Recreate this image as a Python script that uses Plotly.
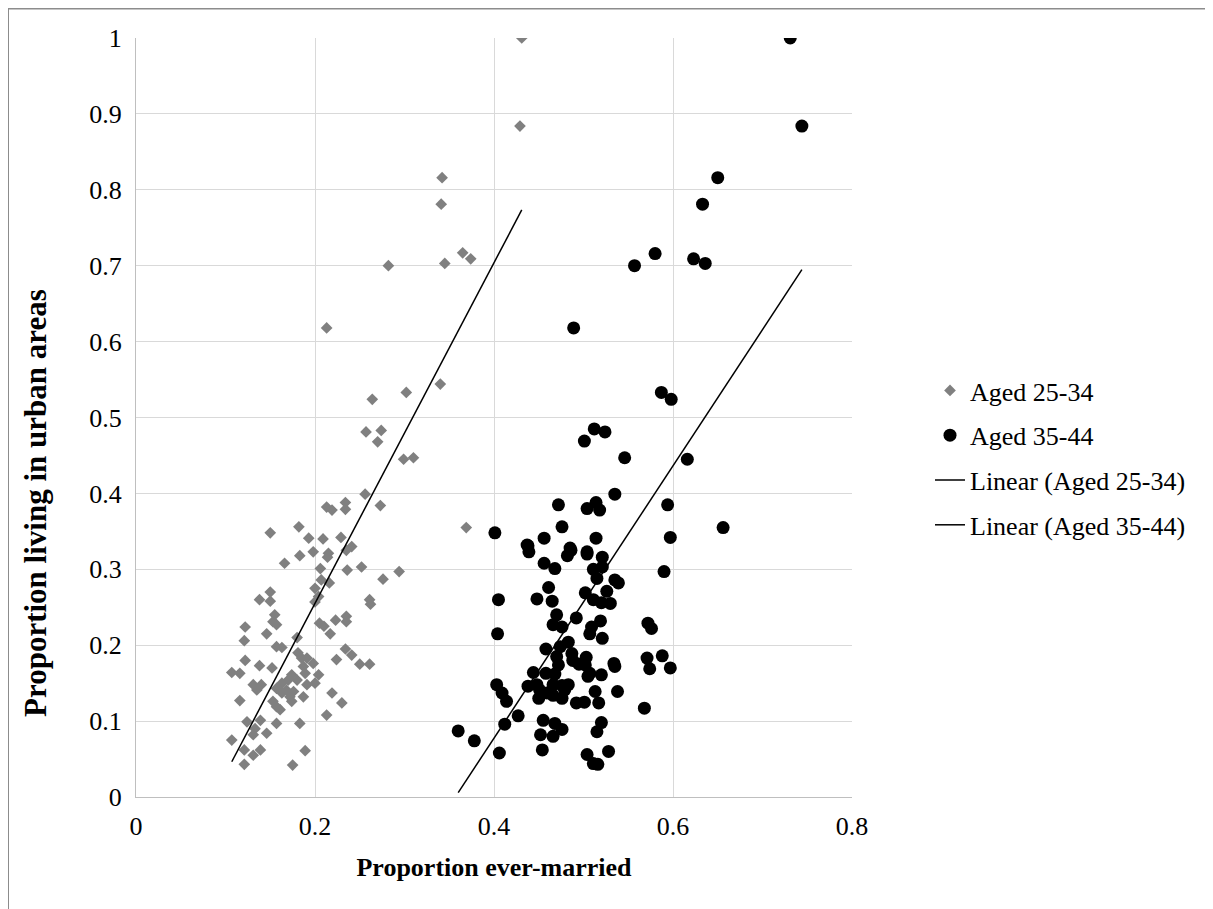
import numpy as np
import plotly.graph_objects as go

# Aged 25-34 (grey diamonds)
x_2534 = [0.150, 0.182, 0.193, 0.209, 0.229, 0.198, 0.183, 0.215, 0.214, 0.235, 0.241, 0.166,
          0.206, 0.236, 0.252, 0.276, 0.294, 0.207, 0.200, 0.216, 0.204, 0.200, 0.150, 0.138,
          0.150, 0.261, 0.262, 0.155, 0.153, 0.157, 0.146, 0.122, 0.121, 0.180, 0.205, 0.210,
          0.217, 0.223, 0.235, 0.235, 0.157, 0.163, 0.181, 0.185, 0.191, 0.198, 0.234, 0.241,
          0.224, 0.250, 0.261, 0.122, 0.107, 0.116, 0.138, 0.152, 0.187, 0.189, 0.204, 0.174,
          0.170, 0.163, 0.180, 0.131, 0.140, 0.135, 0.157, 0.168, 0.176, 0.191, 0.200, 0.163,
          0.172, 0.187, 0.219, 0.174, 0.153, 0.116, 0.230, 0.157, 0.161, 0.213, 0.124, 0.139,
          0.133, 0.146, 0.157, 0.183, 0.131, 0.107, 0.121, 0.131, 0.139, 0.121, 0.175, 0.189,
          0.213, 0.264, 0.257, 0.274, 0.270, 0.256, 0.213, 0.219, 0.234, 0.234, 0.273,
          0.302, 0.340, 0.299, 0.310, 0.369,
          0.431, 0.429, 0.342, 0.341, 0.365, 0.374, 0.345, 0.282]
y_2534 = [0.348, 0.356, 0.341, 0.340, 0.342, 0.323, 0.318, 0.321, 0.316, 0.325, 0.330, 0.308,
          0.301, 0.299, 0.303, 0.287, 0.297, 0.286, 0.275, 0.282, 0.264, 0.257, 0.270, 0.260,
          0.258, 0.260, 0.254, 0.240, 0.231, 0.227, 0.215, 0.224, 0.206, 0.210, 0.229, 0.225,
          0.215, 0.233, 0.238, 0.231, 0.198, 0.197, 0.190, 0.183, 0.183, 0.176, 0.195, 0.187,
          0.181, 0.175, 0.175, 0.180, 0.164, 0.163, 0.173, 0.170, 0.172, 0.163, 0.161, 0.161,
          0.154, 0.150, 0.154, 0.148, 0.148, 0.141, 0.143, 0.141, 0.139, 0.148, 0.150, 0.137,
          0.132, 0.132, 0.137, 0.126, 0.126, 0.127, 0.124, 0.119, 0.115, 0.108, 0.099, 0.101,
          0.090, 0.084, 0.097, 0.097, 0.082, 0.075, 0.062, 0.055, 0.062, 0.043, 0.042, 0.061,
          0.618, 0.524, 0.481, 0.483, 0.468, 0.399, 0.382, 0.378, 0.388, 0.379, 0.384,
          0.533, 0.544, 0.445, 0.447, 0.355,
          1.000, 0.884, 0.816, 0.781, 0.717, 0.709, 0.703, 0.700]

# Aged 35-44 (black circles)
x_3544 = [0.731, 0.744, 0.650, 0.633, 0.580, 0.623, 0.636, 0.557, 0.489, 0.587, 0.598, 0.512,
          0.524, 0.501, 0.546, 0.616, 0.535, 0.472, 0.504, 0.514, 0.518, 0.594, 0.476, 0.656,
          0.401, 0.597, 0.456, 0.438, 0.485, 0.514, 0.504,
          0.437, 0.439, 0.486, 0.482, 0.504, 0.521, 0.456, 0.468, 0.511, 0.521, 0.590, 0.515,
          0.535, 0.539, 0.461, 0.502, 0.526, 0.405, 0.448, 0.465, 0.511, 0.520, 0.530, 0.470,
          0.492, 0.466, 0.476, 0.519, 0.509, 0.507, 0.572, 0.576, 0.521, 0.404, 0.483, 0.474,
          0.458, 0.487, 0.470, 0.488, 0.503, 0.502, 0.495, 0.472, 0.534, 0.535, 0.571, 0.574,
          0.588, 0.597, 0.444, 0.458, 0.468, 0.505, 0.520, 0.507, 0.403, 0.438, 0.448, 0.451,
          0.466, 0.476, 0.483, 0.479, 0.409, 0.459, 0.466, 0.513, 0.538, 0.450, 0.476, 0.414,
          0.492, 0.501, 0.517, 0.568, 0.427, 0.412, 0.455, 0.468, 0.476, 0.452, 0.466, 0.520,
          0.515, 0.360, 0.378, 0.406, 0.454, 0.504, 0.528, 0.511, 0.516]
y_3544 = [1.000, 0.884, 0.816, 0.781, 0.716, 0.709, 0.703, 0.700, 0.618, 0.533, 0.524, 0.485,
          0.481, 0.469, 0.447, 0.445, 0.399, 0.385, 0.380, 0.388, 0.378, 0.385, 0.356, 0.355,
          0.348, 0.342, 0.341, 0.331, 0.328, 0.341, 0.323,
          0.332, 0.323, 0.325, 0.318, 0.320, 0.316, 0.308, 0.301, 0.300, 0.303, 0.297, 0.288,
          0.286, 0.282, 0.276, 0.269, 0.271, 0.260, 0.261, 0.258, 0.260, 0.256, 0.255, 0.240,
          0.236, 0.227, 0.224, 0.232, 0.224, 0.215, 0.229, 0.222, 0.209, 0.215, 0.204, 0.198,
          0.195, 0.189, 0.185, 0.180, 0.184, 0.174, 0.175, 0.174, 0.176, 0.172, 0.183, 0.169,
          0.186, 0.170, 0.164, 0.163, 0.162, 0.159, 0.161, 0.163, 0.148, 0.146, 0.148, 0.141,
          0.148, 0.147, 0.148, 0.141, 0.137, 0.137, 0.134, 0.139, 0.139, 0.130, 0.130, 0.126,
          0.124, 0.125, 0.124, 0.117, 0.107, 0.096, 0.101, 0.097, 0.089, 0.082, 0.080, 0.098,
          0.086, 0.087, 0.074, 0.058, 0.062, 0.056, 0.060, 0.044, 0.043]

series_names = ["Aged 25-34", "Aged 35-44"]
x_ticks = [0, 0.2, 0.4, 0.6, 0.8]
y_ticks = [0, 0.1, 0.2, 0.3, 0.4, 0.5, 0.6, 0.7, 0.8, 0.9, 1]
x_title = "Proportion ever-married"
y_title = "Proportion living in urban areas"

FONT = "Liberation Serif, Times New Roman, serif"


def trend(xs, ys):
    xs = np.asarray(xs)
    ys = np.asarray(ys)
    m, b = np.polyfit(xs, ys, 1)
    xx = np.array([xs.min(), xs.max()])
    return xx, m * xx + b


fig = go.Figure()
fig.add_trace(go.Scatter(x=x_2534, y=y_2534, mode="markers", name=series_names[0],
                         legendgroup="a",
                         marker=dict(symbol="diamond", size=9, color="#808080")))
fig.add_trace(go.Scatter(x=x_3544, y=y_3544, mode="markers", name=series_names[1],
                         legendgroup="b",
                         marker=dict(symbol="circle", size=13, color="#000000")))
tx, ty = trend(x_2534, y_2534)
fig.add_trace(go.Scatter(x=tx, y=ty, mode="lines", name="Linear (" + series_names[0] + ")",
                         legendgroup="c", line=dict(color="#000000", width=1.5)))
tx, ty = trend(x_3544, y_3544)
fig.add_trace(go.Scatter(x=tx, y=ty, mode="lines", name="Linear (" + series_names[1] + ")",
                         legendgroup="d", line=dict(color="#000000", width=1.5)))

# figure pixel frame (the page places the figure 8px in from the top-left)
L, T, R, B = 128, 30, 844, 789
W, H = 1205, 901
pw, ph = R - L, B - T


def px2x(px):
    return (px - L) / pw


def py2y(py):
    return (B - py) / ph


fig.update_layout(
    width=W, height=H,
    margin=dict(l=L, r=W - R, t=T, b=H - B, pad=0),
    paper_bgcolor="white", plot_bgcolor="white",
    font=dict(family=FONT, size=26, color="#000000"),
    showlegend=True,
    legend=dict(x=px2x(922), y=py2y(359), xanchor="left", yanchor="top",
                font=dict(family=FONT, size=26, color="#000000"),
                traceorder="grouped", tracegroupgap=8,
                bgcolor="rgba(0,0,0,0)"),
    xaxis=dict(range=[0, 0.8], tickvals=x_ticks, ticktext=[str(v) for v in x_ticks],
               showgrid=True, gridcolor="#d9d9d9", gridwidth=1.3,
               zeroline=False, showline=True, linecolor="#bfbfbf", linewidth=1.3,
               ticks="", ticklabelstandoff=6,
               tickfont=dict(family=FONT, size=26),
               title=dict(text="<b>" + x_title + "</b>", standoff=17,
                          font=dict(family=FONT, size=26))),
    yaxis=dict(range=[0, 1], tickvals=y_ticks, ticktext=[str(v) for v in y_ticks],
               showgrid=True, gridcolor="#d9d9d9", gridwidth=1.3,
               zeroline=False, showline=True, linecolor="#bfbfbf", linewidth=1.3,
               ticks="", ticklabelstandoff=8,
               tickfont=dict(family=FONT, size=26)),
    annotations=[
        dict(text="<b>" + y_title + "</b>", textangle=-90,
             xref="paper", yref="paper", x=px2x(27), y=py2y(495),
             xanchor="center", yanchor="middle", showarrow=False,
             font=dict(family=FONT, size=31, color="#000000")),
    ],
    shapes=[
        dict(type="line", xref="paper", yref="paper",
             x0=px2x(-1), x1=px2x(W + 5), y0=py2y(0.5), y1=py2y(0.5),
             line=dict(color="#8c8c8c", width=2)),
        dict(type="line", xref="paper", yref="paper",
             x0=px2x(0), x1=px2x(0), y0=py2y(0), y1=py2y(H + 5),
             line=dict(color="#8c8c8c", width=2)),
    ],
)

fig.write_html("out.html")
